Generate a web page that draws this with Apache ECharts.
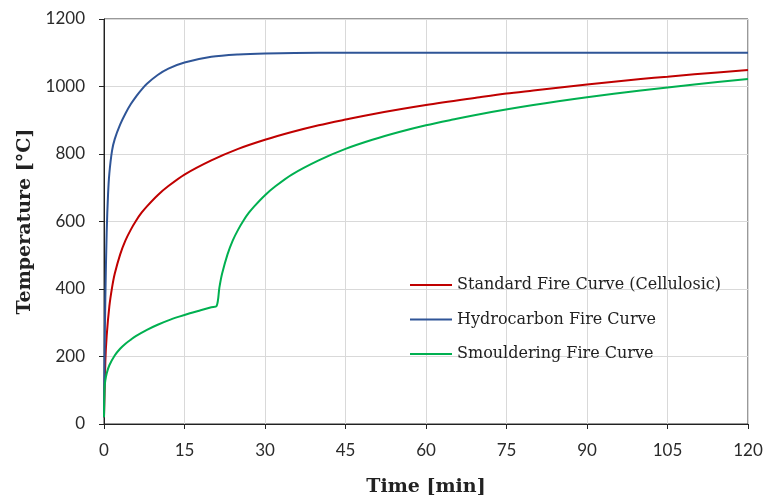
<!DOCTYPE html>
<html><head><meta charset="utf-8">
<script src="https://cdn.jsdelivr.net/npm/echarts@6/dist/echarts.min.js"></script>
<style>html,body{margin:0;padding:0;background:#fff}#c{width:768px;height:495px}</style>
</head><body><div id="c"></div>
<script>
// Time [min] and Temperature [°C] values
const stdTime = [0,0.25,0.5,1,1.5,2,3,4,5,6,7,8,10,12,15,20,25,30,35,40,45,50,60,70,75,80,90,100,105,110,120];
const stdTemp = [20,185,261,349,404,445,502,544,576,603,626,645,678,705,739,781,815,842,865,885,902,918,945,968,979,988,1006,1022,1029,1036,1049];

const hcTime = [0,0.1,0.25,0.5,0.75,1,1.5,2,3,4,5,6,7,8,10,12,15,20,25,30,40,60,90,120];
const hcTemp = [20,187,373,568,679,743,810,844,887,920,948,971,991,1008,1034,1053,1071,1088,1095,1098,1100,1100,1100,1100];

const smTime = [0,0.1,0.25,0.5,1,2,3,4,5,6,8,10,12,14,16,18,20,21,21.5,22,23,24,25,26,27,28,30,32,35,40,45,50,55,60,65,70,80,90,100,110,120];
const smTemp = [20,107,129,150,174,203,223,238,250,261,279,294,307,318,328,337,346,350,404,445,502,544,576,603,626,645,678,705,739,781,815,842,865,885,902,918,945,968,988,1006,1022];

const seriesNames = ['Standard Fire Curve (Cellulosic)','Hydrocarbon Fire Curve','Smouldering Fire Curve'];
const xTitle = 'Time [min]';
const yTitle = 'Temperature [°C]';

const pair = (t, v) => t.map((x, i) => [x, v[i]]);
const colors = ['#C00000', '#2F5597', '#00B050'];
const serif = 'DejaVu Serif';
const tickFont = 'Lato';
const chart = echarts.init(document.getElementById('c'), null, {renderer: 'canvas'});
const mkSeries = (i, t, v) => ({
  name: seriesNames[i], type: 'line', data: pair(t, v), smooth: 0.3,
  symbol: 'none', lineStyle: {width: 2, color: colors[i]}, itemStyle: {color: colors[i]}
});
chart.setOption({
  animation: false,
  backgroundColor: '#fff',
  grid: {left: 104, right: 20, top: 19, bottom: 71, show: true, borderColor: '#333', borderWidth: 1,
         containLabel: false, outerBoundsMode: 'none'},
  legend: {
    orient: 'vertical', left: 405, top: 272, itemGap: 18.5, itemWidth: 42, itemHeight: 20,
    textStyle: {fontFamily: serif, fontSize: 16, color: '#222'},
    data: seriesNames.map(n => ({name: n, icon: 'path://M0,9L42,9L42,11L0,11Z'}))
  },
  xAxis: {
    type: 'value', min: 0, max: 120, interval: 15,
    name: xTitle, nameLocation: 'middle', nameGap: 54,
    nameTextStyle: {fontFamily: serif, fontSize: 19, fontWeight: 'bold', color: '#222'},
    axisLine: {lineStyle: {color: '#222'}},
    axisTick: {show: true, inside: false, length: 5, lineStyle: {color: '#222'}},
    axisLabel: {fontFamily: tickFont, fontSize: 17, color: '#2a2a2a', margin: 18},
    splitLine: {show: true, lineStyle: {color: '#d9d9d9'}}
  },
  yAxis: {
    type: 'value', min: 0, max: 1200, interval: 200,
    name: yTitle, nameLocation: 'middle', nameGap: 61, nameRotate: 90,
    nameTextStyle: {fontFamily: serif, fontSize: 19, fontWeight: 'bold', color: '#222'},
    axisLine: {show: true, lineStyle: {color: '#222'}},
    axisTick: {show: true, inside: false, length: 5, lineStyle: {color: '#222'}},
    axisLabel: {fontFamily: tickFont, fontSize: 17, color: '#2a2a2a', margin: 19, formatter: v => String(v)},
    splitLine: {show: true, lineStyle: {color: '#d9d9d9'}}
  },
  series: [
    mkSeries(0, stdTime, stdTemp),
    mkSeries(1, hcTime, hcTemp),
    mkSeries(2, smTime, smTemp)
  ]
});
</script></body></html>
